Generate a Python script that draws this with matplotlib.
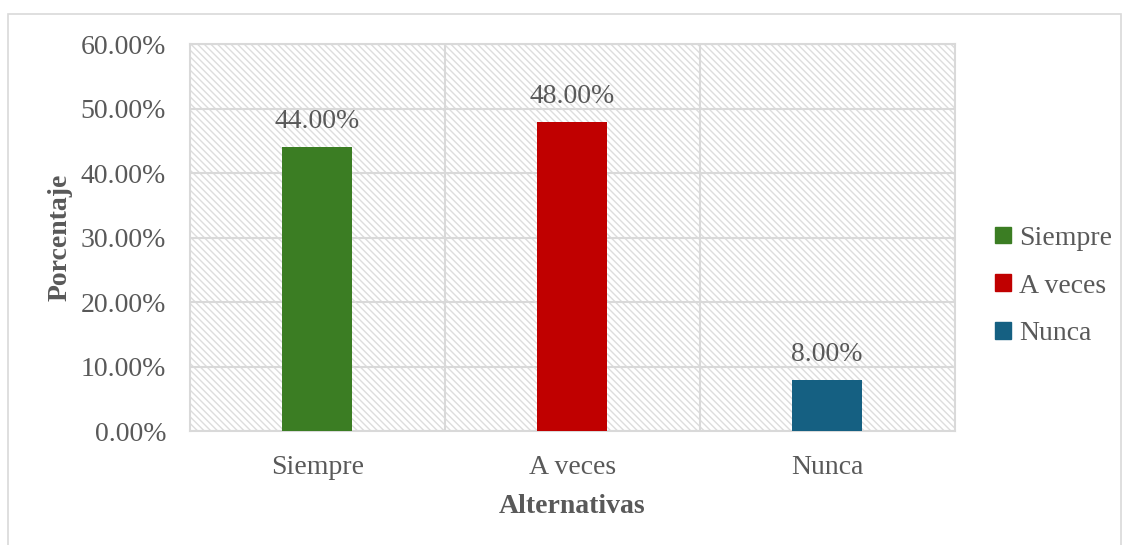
import matplotlib.pyplot as plt
from matplotlib.patches import Rectangle
from matplotlib.ticker import FuncFormatter

categorias = ["Siempre", "A veces", "Nunca"]
porcentajes = [44.0, 48.0, 8.0]
colores = ["#3B7D23", "#C00000", "#156082"]

plt.rcParams['font.family'] = ['Liberation Serif', 'DejaVu Serif']
plt.rcParams['hatch.linewidth'] = 1.0
gris = "#595959"
fs = 20

fig = plt.figure(figsize=(11.23, 5.45), dpi=100)
ax = fig.add_axes([0.169, 0.209, 0.681, 0.710])

# fondo rayado del area de trazado
ax.add_patch(Rectangle((0, 0), 1, 1, transform=ax.transAxes, facecolor="white",
                       edgecolor="#DDDDDD", hatch="\\\\\\\\\\", lw=0, zorder=0))

x = range(len(categorias))
ax.bar(x, porcentajes, width=0.275, color=colores, zorder=3)

for xi, v in zip(x, porcentajes):
    ax.text(xi, v + 2.0, f"{v:.2f}%", ha="center", va="bottom", fontsize=fs, color=gris)

ax.set_xlim(-0.5, 2.5)
ax.set_ylim(0, 60)
ax.set_yticks(range(0, 61, 10))
ax.yaxis.set_major_formatter(FuncFormatter(lambda v, p: f"{v:.2f}%"))
ax.set_xticks(list(x))
ax.set_xticklabels(categorias)
ax.tick_params(length=0, labelsize=fs, colors=gris)
ax.tick_params(axis="x", pad=17)
ax.tick_params(axis="y", pad=17)

ax.grid(axis="y", color="#D9D9D9", lw=1.5, zorder=1)
for b in [0.5, 1.5]:
    ax.axvline(b, color="#D9D9D9", lw=1.5, zorder=1)
for s in ax.spines.values():
    s.set_color("#D9D9D9")
    s.set_linewidth(1.5)

ax.set_xlabel("Alternativas", fontsize=fs, fontweight="bold", color=gris, labelpad=10)
ax.set_ylabel("Porcentaje", fontsize=fs, fontweight="bold", color=gris, labelpad=6)

handles = [Rectangle((0, 0), 1, 1, color=c) for c in colores]
fig.legend(handles, categorias, loc="center left", bbox_to_anchor=(0.864, 0.475),
           frameon=False, fontsize=fs, labelcolor=gris, handlelength=0.55,
           handleheight=0.55, handletextpad=0.3, labelspacing=0.82)

# borde exterior del grafico
fig.add_artist(Rectangle((0.007, -0.01), 0.991, 0.985, transform=fig.transFigure,
                         fill=False, edgecolor="#D9D9D9", lw=1.2))

fig.savefig("out.png", dpi=100)
